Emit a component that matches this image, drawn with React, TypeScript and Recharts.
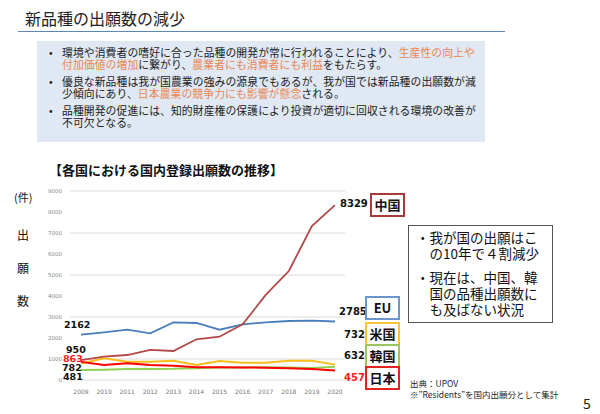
import { LineChart, Line, XAxis, YAxis, CartesianGrid } from 'recharts';

const years = ['2009', '2010', '2011', '2012', '2013', '2014', '2015', '2016', '2017', '2018', '2019', '2020'];
const china = [950, 1110, 1190, 1430, 1380, 1940, 2060, 2650, 4050, 5190, 7330, 8329];
const eu = [2162, 2270, 2395, 2222, 2746, 2714, 2395, 2650, 2746, 2810, 2825, 2785];
const usa = [782, 1030, 870, 870, 920, 714, 905, 825, 825, 920, 920, 732];
const korea = [481, 490, 520, 525, 530, 560, 590, 600, 610, 590, 570, 632];
const japan = [863, 714, 795, 714, 680, 605, 605, 600, 585, 555, 520, 457];
const yTicks = [0, 1000, 2000, 3000, 4000, 5000, 6000, 7000, 8000, 9000];

const data = years.map((y, i) => ({
    year: y, china: china[i], eu: eu[i], usa: usa[i], korea: korea[i], japan: japan[i],
}));

const JP = '"Noto Sans CJK JP", "Noto Sans", sans-serif';
const NUM = '"DejaVu Sans", Verdana, sans-serif';
const ORANGE = '#ea8752';

const abs = (left: number, top: number, extra: React.CSSProperties = {}): React.CSSProperties => ({
    position: 'absolute', left, top, whiteSpace: 'nowrap', ...extra,
});

const Tag = ({ left, top, color, text }: { left: number; top: number; color: string; text: string }) => (
    <div style={abs(left, top, {
        width: 31, height: 20, border: `2px solid ${color}`, background: '#fff',
        fontFamily: JP, fontWeight: 700, fontSize: 13, lineHeight: '20px', textAlign: 'center', color: '#111',
    })}>{text}</div>
);

export default function App() {
    const bulletLine = { fontFamily: JP, fontSize: 10.8, color: '#222', lineHeight: '12px', letterSpacing: 0.1 };
    const leftNum = { fontFamily: NUM, fontSize: 9.5, fontWeight: 700, color: '#111', lineHeight: '10px' };
    return (
        <div style={{ position: 'absolute', left: 0, top: 0, width: 600, height: 414, background: '#fff', overflow: 'hidden' }}>
            <div style={abs(25, 7, { fontFamily: JP, fontSize: 16, color: '#222', lineHeight: '22px' })}>新品種の出願数の減少</div>
            <div style={abs(18, 31, { width: 487, height: 1, background: '#5f87b3' })} />

            <div style={abs(37, 41, { width: 448, height: 101, background: '#dfe8f3' })} />
            <div style={abs(49, 46, bulletLine)}>•</div>
            <div style={abs(62, 46, bulletLine)}>
                環境や消費者の嗜好に合った品種の開発が常に行われることにより、<span style={{ color: ORANGE }}>生産性の向上や</span><br />
                <span style={{ color: ORANGE }}>付加価値の増加</span>に繋がり、<span style={{ color: ORANGE }}>農業者にも消費者にも利益</span>をもたらす。
            </div>
            <div style={abs(49, 75, bulletLine)}>•</div>
            <div style={abs(62, 75, bulletLine)}>
                優良な新品種は我が国農業の強みの源泉でもあるが、我が国では新品種の出願数が減<br />
                少傾向にあり、<span style={{ color: ORANGE }}>日本農業の競争力にも影響が懸念</span>される。
            </div>
            <div style={abs(49, 104, bulletLine)}>•</div>
            <div style={abs(62, 104, bulletLine)}>
                品種開発の促進には、知的財産権の保護により投資が適切に回収される環境の改善が<br />
                不可欠となる。
            </div>

            <div style={abs(49, 161, { fontFamily: JP, fontSize: 13, fontWeight: 700, color: '#111', lineHeight: '18px' })}>【各国における国内登録出願数の推移】</div>

            <div style={abs(14, 189, { fontFamily: JP, fontSize: 11, color: '#111' })}>(件)</div>
            <div style={abs(17, 226, { fontFamily: JP, fontSize: 12, color: '#111' })}>出</div>
            <div style={abs(17, 259, { fontFamily: JP, fontSize: 12, color: '#111' })}>願</div>
            <div style={abs(17, 292, { fontFamily: JP, fontSize: 12, color: '#111' })}>数</div>

            <div style={abs(0, 0)}>
                <LineChart width={600} height={414} data={data} margin={{ top: 191, right: 255, bottom: 14, left: 50 }}>
                    <CartesianGrid vertical={false} stroke="#d9d9d9" strokeWidth={1} />
                    <XAxis dataKey="year" axisLine={false} tickLine={false} height={20} padding={{ left: 11, right: 10 }}
                        tick={{ fontSize: 6, fill: '#777', fontFamily: NUM }} interval={0} tickMargin={4} />
                    <YAxis domain={[0, 9000]} ticks={yTicks} axisLine={false} tickLine={false} width={20}
                        tick={{ fontSize: 5.5, fill: '#888', fontFamily: NUM }} tickMargin={2} />
                    <Line dataKey="korea" stroke="#92d050" strokeWidth={2} dot={false} isAnimationActive={false} />
                    <Line dataKey="usa" stroke="#f7bd1b" strokeWidth={2} dot={false} isAnimationActive={false} />
                    <Line dataKey="japan" stroke="#ff0000" strokeWidth={2} dot={false} isAnimationActive={false} />
                    <Line dataKey="eu" stroke="#4a7ebb" strokeWidth={1.8} dot={false} isAnimationActive={false} />
                    <Line dataKey="china" stroke="#b24848" strokeWidth={1.8} dot={false} isAnimationActive={false} />
                </LineChart>
            </div>

            <div style={abs(64, 320, leftNum)}>2162</div>
            <div style={abs(62, 345, { ...leftNum, lineHeight: '9px' })}>
                <span style={{ marginLeft: 4 }}>950</span><br />
                <span style={{ marginLeft: 1, color: '#ff1a1a' }}>863</span><br />
                <span>782</span><br />
                <span style={{ marginLeft: 1 }}>481</span>
            </div>

            <div style={abs(340, 198, { fontFamily: NUM, fontSize: 10, fontWeight: 700, color: '#111' })}>8329</div>
            <Tag left={370} top={193} color="#a93a3a" text="中国" />
            <div style={abs(339, 306, { fontFamily: NUM, fontSize: 10, fontWeight: 700, color: '#111' })}>2785</div>
            <Tag left={365} top={296} color="#6c95c9" text="EU" />
            <div style={abs(344, 329, { fontFamily: NUM, fontSize: 10, fontWeight: 700, color: '#111' })}>732</div>
            <Tag left={365} top={322} color="#f6c43a" text="米国" />
            <div style={abs(344, 350, { fontFamily: NUM, fontSize: 10, fontWeight: 700, color: '#111' })}>632</div>
            <Tag left={365} top={344} color="#9cc65c" text="韓国" />
            <div style={abs(344, 372, { fontFamily: NUM, fontSize: 10, fontWeight: 700, color: '#ff1a1a' })}>457</div>
            <Tag left={365} top={366} color="#e02424" text="日本" />

            <div style={abs(408, 225, { width: 143, height: 96, border: '1px solid #555', background: '#fff' })} />
            <div style={abs(416, 229, { fontFamily: JP, fontSize: 13.5, color: '#111', lineHeight: '16px' })}>
                <div>・我が国の出願はこ</div>
                <div>　の10年で４割減少</div>
                <div style={{ marginTop: 8 }}>・現在は、中国、韓</div>
                <div>　国の品種出願数に</div>
                <div>　も及ばない状況</div>
            </div>

            <div style={abs(410, 378, { fontFamily: JP, fontSize: 8.5, color: '#222', lineHeight: '11px' })}>
                <div>出典：UPOV</div>
                <div>※”Residents”を国内出願分として集計</div>
            </div>
            <div style={abs(583, 393, { fontFamily: JP, fontSize: 14, color: '#222' })}>5</div>
        </div>
    );
}
